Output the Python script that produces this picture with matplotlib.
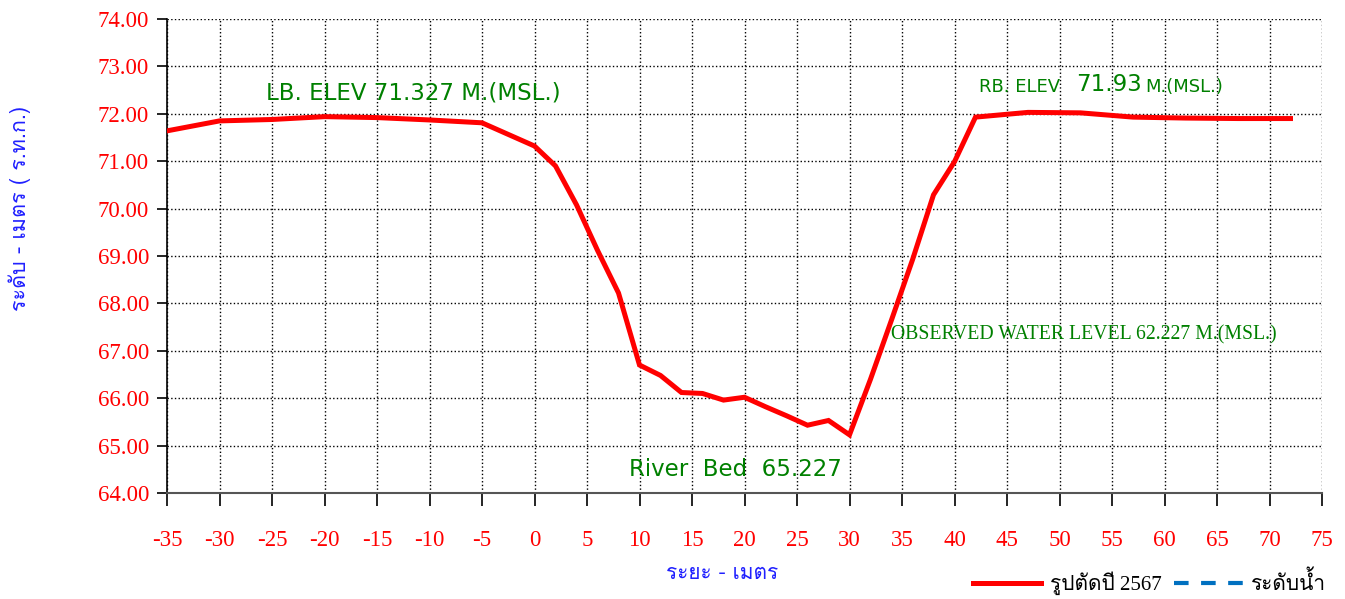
import matplotlib
matplotlib.use('Agg')
import matplotlib.pyplot as plt
from matplotlib import font_manager
from matplotlib.ft2font import FT2Font
from matplotlib.lines import Line2D

# Cross-section data (distance m, elevation m MSL)
dist = [-35, -30, -25, -20, -15, -10, -5, 0, 2, 4, 6, 8, 10, 12, 14, 16, 18, 20,
        22, 24, 26, 28, 30, 32, 34, 36, 38, 40, 42, 47, 52, 57, 62, 67, 72]
elev = [71.64, 71.85, 71.88, 71.94, 71.92, 71.87, 71.81, 71.32, 70.90, 70.08,
        69.12, 68.22, 66.70, 66.48, 66.12, 66.10, 65.96, 66.02, 65.82, 65.63,
        65.43, 65.53, 65.227, 66.40, 67.65, 68.92, 70.29, 70.99, 71.93, 72.03,
        72.02, 71.93, 71.91, 71.90, 71.90]
water_x = [-35, 72]
water_y = [62.227, 62.227]

x_ticks = list(range(-35, 80, 5))
y_ticks = list(range(64, 75))


def find_thai_font():
    # look for any installed font that has Thai glyphs
    for f in font_manager.fontManager.ttflist:
        try:
            if 0x0E23 in FT2Font(f.fname).get_charmap():
                return f.name
        except Exception:
            pass
    return 'DejaVu Sans'


thai = find_thai_font()
serif = ['Liberation Serif', thai, 'DejaVu Serif']
sans = [thai, 'DejaVu Sans']
green = '#008000'

fig = plt.figure(figsize=(13.45, 5.99), dpi=100)
ax = fig.add_axes([167 / 1345, 1 - 493 / 599, (1322 - 167) / 1345, (493 - 19) / 599])

ax.plot(dist, elev, color='#ff0000', lw=3.6, solid_joinstyle='miter', zorder=3)
ax.plot(water_x, water_y, color='#0070c0', lw=3, ls=(0, (3.5, 3)), zorder=3)

ax.set_xlim(-35, 75)
ax.set_ylim(64, 74)
ax.set_xticks(x_ticks)
ax.set_yticks(y_ticks)
ax.set_xticklabels([str(v) for v in x_ticks], family=serif, fontsize=16.5, color='#ff0000')
ax.set_yticklabels([f'{v:.2f}' for v in y_ticks], family=serif, fontsize=16.5, color='#ff0000')
ax.tick_params(axis='x', direction='out', length=9, pad=18, width=1.2)
ax.tick_params(axis='y', direction='out', length=7, pad=6, width=1.2)
ax.grid(True, color='black', ls=':', lw=1)
ax.spines['top'].set_visible(False)
ax.spines['right'].set_visible(False)
ax.spines['bottom'].set_color('#555555')
ax.spines['bottom'].set_linewidth(1.5)
ax.spines['left'].set_linewidth(1.2)

ax.set_xlabel('ระยะ - เมตร', family=sans, fontsize=15, color='#2020ff')
ax.xaxis.set_label_coords(0.481, -0.15)
ax.set_ylabel('ระดับ - เมตร ( ร.ท.ก.)', family=sans, fontsize=15.5, color='#2020ff')
ax.yaxis.set_label_coords(-0.118, 0.6)

ax.text(-25.6, 72.2, 'LB. ELEV 71.327 M.(MSL.)', fontsize=16.5, color=green,
        family='DejaVu Sans', va='bottom')
ax.text(9.0, 64.25, 'River  Bed  65.227', fontsize=16.5, color=green,
        family='DejaVu Sans', va='bottom')
ax.text(42.3, 72.38, 'RB. ELEV', fontsize=13, color=green, family='DejaVu Sans', va='bottom')
ax.text(51.6, 72.38, '71.93', fontsize=16.5, color=green, family='DejaVu Sans', va='bottom')
ax.text(58.2, 72.38, 'M.(MSL.)', fontsize=13, color=green, family='DejaVu Sans', va='bottom')
ax.text(33.95, 67.33, 'OBSERVED WATER LEVEL 62.227 M.(MSL.)', fontsize=14.25, color=green,
        family=serif, va='center')

handles = [Line2D([], [], color='#ff0000', lw=3.6),
           Line2D([], [], color='#0070c0', lw=3, ls=(0, (3.5, 3)))]
leg = fig.legend(handles, ['รูปตัดปี 2567', 'ระดับน้ำ'], loc='lower right',
                 bbox_to_anchor=(1.0, -0.025), ncol=2, frameon=False,
                 prop={'family': serif, 'size': 15}, handlelength=3.3,
                 handletextpad=0.4, columnspacing=0.6)

fig.savefig('out.png', dpi=100)
